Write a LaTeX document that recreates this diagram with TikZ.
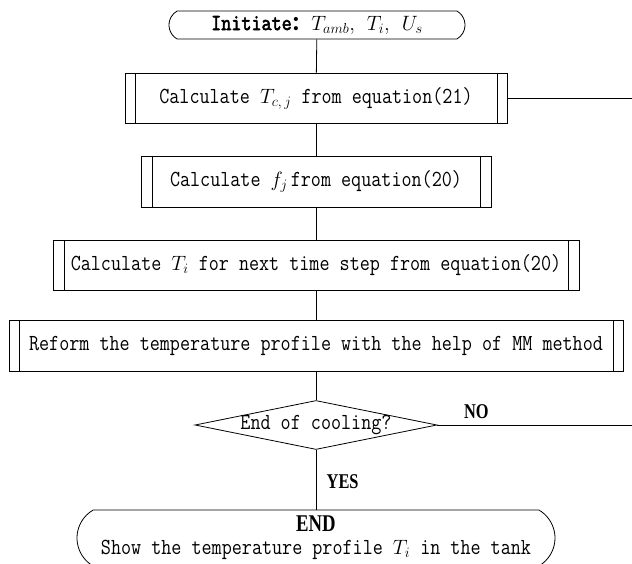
\documentclass[tikz,border=0pt]{standalone}
\usepackage{fontspec}
\newfontfamily\cjkfont{Noto Sans CJK SC}
\newfontfamily\lblfont{Liberation Serif}[FakeStretch=0.78]
\newfontfamily\monof{Latin Modern Mono}[FakeStretch=0.85]
\newfontfamily\monobf{Latin Modern Mono}[FakeStretch=0.85, FakeBold=2.5]
\newcommand\mainsz{\fontsize{23}{25}\selectfont}
\newcommand\mth[1]{{\fontsize{19.5}{22}\selectfont$#1$}}
\usetikzlibrary{shapes.geometric,shapes.misc}
\tikzset{
  base/.style={draw, line width=0.8pt, inner sep=0pt},
  term/.style={base, rounded rectangle, rounded rectangle arc length=120, align=center},
  dbar/.style={base, rectangle,
    path picture={\draw[line width=0.8pt]
      ([xshift=#1]path picture bounding box.north west) -- ([xshift=#1]path picture bounding box.south west)
      ([xshift=-#1]path picture bounding box.north east) -- ([xshift=-#1]path picture bounding box.south east);}},
  dbar/.default=10.5pt,
  decision/.style={base, diamond},
  conn/.style={line width=0.8pt},
  lbl/.style={font=\lblfont\bfseries\fontsize{21}{23}\selectfont}
}
\begin{document}
\begin{tikzpicture}[x=1pt, y=-1pt, font=\mainsz\monof]
\useasboundingbox (0,0) rectangle (632,564);
\node[term, minimum width=296pt, minimum height=28pt] (start) at (317,25)
  {{\monobf Initiate}{\cjkfont\bfseries\fontsize{19.5}{22}\selectfont ：}\mth{T_{amb},\ T_i,\ U_s}};
\node[dbar=10pt, minimum width=382pt, minimum height=50pt] (b1) at (316,98)
  {Calculate \mth{T_{c,\,j}} from equation(21)};
\node[dbar=11pt, minimum width=350pt, minimum height=51pt] (b2) at (316,181.5)
  {Calculate \mth{f_j}\hspace{3pt}from equation(20)};
\node[dbar=11pt, minimum width=526pt, minimum height=50pt] (b3) at (316,265)
  {Calculate \mth{T_i} for next time step from equation(20)};
\node[dbar=10pt, minimum width=614pt, minimum height=51pt] (b4) at (316,346)
  {Reform the temperature profile with the help of MM method};
\node[decision, minimum width=242pt, minimum height=49pt, label={center:End of cooling?}] (dec) at (316,425) {};
\node[term, minimum width=478pt, minimum height=56pt] (end) at (316,538)
  {{\lblfont\bfseries\fontsize{24}{24}\selectfont END}\\[-2pt]Show the temperature profile \mth{T_i} in the tank};
\coordinate (r1) at (632,98);
\coordinate (r2) at (632,425);
\draw[conn] (start) -- (b1);
\draw[conn] (b1) -- (b2);
\draw[conn] (b2) -- (b3);
\draw[conn] (b3) -- (b4);
\draw[conn] (b4) -- (dec);
\draw[conn] (dec.south) -- node[pos=0.54, right=7pt, lbl] (yes) {YES} (end.north);
\draw[conn] (dec.east) -- node[pos=0.2, above=3pt, lbl] (no) {NO} (r2);
\draw[conn] (b1.east) -- (r1);
\end{tikzpicture}
\end{document}
